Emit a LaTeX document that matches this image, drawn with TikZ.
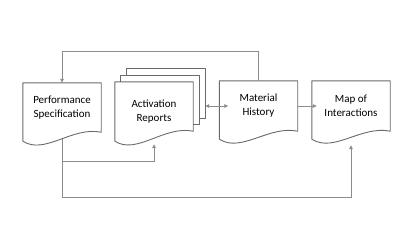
\documentclass[tikz,border=0pt]{standalone}
\usepackage{fontspec}
\setmainfont{Carlito}
\usetikzlibrary{arrows.meta}
\definecolor{boxc}{HTML}{6A6A6A}
\definecolor{linec}{HTML}{8C8C8C}
\tikzset{
  docbox/.style={draw=none, minimum width=78pt, minimum height=49pt, inner sep=0pt,
    align=center, font=\fontsize{11}{14}\selectfont},
  docline/.style={draw=boxc, line width=0.9pt, line join=round},
  conn/.style={draw=linec, line width=0.8pt},
  tip/.style={-{Triangle[length=4pt,width=3.6pt]}},
  tipboth/.style={{Triangle[length=4pt,width=3.6pt]}-{Triangle[length=4pt,width=3.6pt]}},
}
\newcommand{\docshape}[2]{%
  \path[docline] (#1.north west) -- (#1.north east) -- (#1.south east)
    .. controls +(-29,-6) and +(22,14) .. ([yshift=-#2pt]#1.south west) -- cycle;}
\begin{document}
\begin{tikzpicture}[x=1pt,y=-1pt]
\useasboundingbox (0,0) rectangle (420,250);
% documents
\node[docbox] (ps) at (62,107.5) {Performance\\Specification};
\node[docbox] (ar3) at (166,93.5) {};
\node[docbox] (ar2) at (160,100) {};
\node[docbox] (ar) at (154,106.5) {};
\node[docbox, minimum height=0pt] (artext) at (154,112) {Activation\\Reports};
\node[docbox, minimum height=50pt] (mh) at (258.5,106) {Material\\History};
\node[docbox, minimum height=50pt] (mi) at (351,106) {Map of\\Interactions};
\docshape{ps}{9}
\docshape{ar}{10}
\docshape{mh}{8}
\docshape{mi}{8}
\path[docline] (ar2.north west |- ar.north) -- (ar2.north west) -- (ar2.north east)
  -- (ar2.south east) -- (ar.north east |- ar2.south);
\path[docline] (ar3.north west |- ar2.north) -- (ar3.north west) -- (ar3.north east)
  -- (ar3.south east) -- (ar2.north east |- ar3.south);
% connectors
\coordinate (top) at (0,51);
\coordinate (bot) at (0,197);
\coordinate (mid) at (0,161);
\draw[conn,tip] (mh.north) -- (mh.north |- top) -| (ps.north);
\draw[conn,tipboth] (ar3.east |- mh.west) -- ([xshift=9pt]mh.west);
\draw[conn,tip] (mh.east) -- ([xshift=5pt]mi.west);
\draw[conn,tip] ([yshift=-7pt]ps.south) -- (ps.south |- bot) -| ([yshift=-14pt]mi.south);
\draw[conn,tip] (ps.south |- mid) -| ([yshift=-13pt]ar.south);
\end{tikzpicture}
\end{document}
